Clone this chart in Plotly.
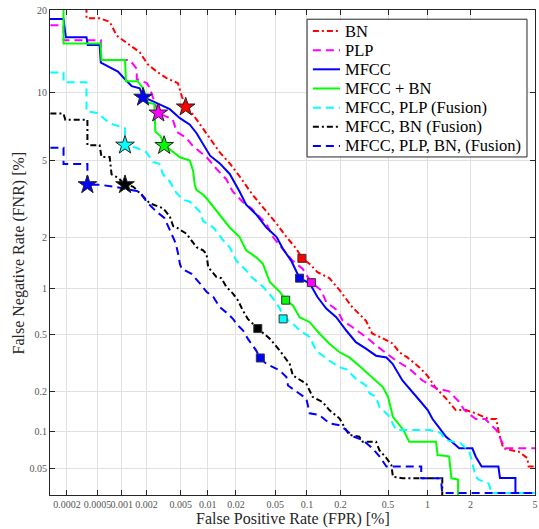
import plotly.graph_objects as go
from statistics import NormalDist

# DET curves: (FPR %, FNR %)
bn = [(0.00036, 25), (0.00036, 18.8), (0.00053, 18.8), (0.00071, 18.3), (0.00087, 16.4), (0.00104, 15.8),
      (0.00166, 14.3), (0.00207, 12.9), (0.00264, 12.1), (0.00346, 11.4), (0.00465, 10.9), (0.00517, 9.6),
      (0.00573, 8.7), (0.00686, 8.1), (0.00886, 7.0), (0.0110, 6.15), (0.0135, 5.46), (0.0172, 4.84),
      (0.0218, 4.19), (0.0296, 3.38), (0.0408, 2.76), (0.0515, 2.37), (0.064, 2.0), (0.0795, 1.72),
      (0.0898, 1.51), (0.106, 1.40), (0.125, 1.25), (0.16, 1.15), (0.197, 0.97), (0.253, 0.76),
      (0.33, 0.62), (0.372, 0.51), (0.452, 0.474), (0.543, 0.437), (0.614, 0.38), (0.707, 0.35),
      (0.873, 0.298), (1.0, 0.26), (1.155, 0.211), (1.356, 0.178), (1.59, 0.145), (1.87, 0.145),
      (2.17, 0.137), (2.63, 0.124), (2.94, 0.124), (3.03, 0.10), (3.25, 0.073), (4.03, 0.0685),
      (4.52, 0.061), (4.6, 0.052), (5.1, 0.052)]

plp = [(0.00012, 17.8), (0.00018, 17.8), (0.00018, 15.8), (0.00055, 15.8), (0.00055, 13.4), (0.00126, 13.4),
       (0.00153, 12.4), (0.00153, 11.3), (0.00202, 10.9), (0.00219, 10.4), (0.00276, 8.2), (0.00406, 7.7),
       (0.00449, 6.8), (0.0058, 6.36), (0.00686, 5.84), (0.00975, 5.18), (0.0124, 4.56), (0.0158, 4.05),
       (0.0185, 3.51), (0.0234, 3.11), (0.0287, 2.87), (0.0408, 2.37), (0.0474, 2.0), (0.059, 1.72),
       (0.0734, 1.46), (0.0911, 1.31), (0.110, 1.08), (0.135, 0.97), (0.150, 0.816), (0.189, 0.721),
       (0.209, 0.622), (0.253, 0.563), (0.33, 0.484), (0.40, 0.423), (0.485, 0.372), (0.58, 0.332),
       (0.73, 0.292), (0.92, 0.24), (1.155, 0.211), (1.43, 0.2), (1.68, 0.167), (1.82, 0.145),
       (2.17, 0.124), (2.5, 0.124), (2.94, 0.102), (3.33, 0.073), (5.1, 0.073)]

mfcc = [(0.0001, 18.7), (0.00018, 18.7), (0.000193, 16.2), (0.00036, 16.2), (0.000374, 15.2), (0.00053, 15.2),
        (0.00055, 13.1), (0.00071, 12.6), (0.0009, 12.1), (0.0011, 11.3), (0.00133, 10.6), (0.00166, 10.4),
        (0.00182, 9.56), (0.00229, 9.25), (0.00375, 8.52), (0.0049, 7.8), (0.00635, 7.3), (0.00754, 6.69),
        (0.00886, 5.97), (0.0106, 5.27), (0.0135, 4.84), (0.0172, 4.3), (0.0218, 3.51), (0.0255, 3.0),
        (0.0323, 2.66), (0.0408, 2.26), (0.0515, 2.0), (0.059, 1.72), (0.0713, 1.46), (0.0854, 1.15),
        (0.106, 1.07), (0.125, 0.879), (0.150, 0.743), (0.184, 0.653), (0.224, 0.536), (0.272, 0.446),
        (0.33, 0.403), (0.40, 0.36), (0.485, 0.35), (0.543, 0.316), (0.648, 0.24), (0.772, 0.2),
        (0.873, 0.172), (1.005, 0.145), (1.09, 0.124), (1.22, 0.106), (1.356, 0.0905), (1.68, 0.073),
        (2.06, 0.073), (2.17, 0.0625), (2.37, 0.052), (3.03, 0.052), (3.1, 0.0417), (3.85, 0.0417),
        (3.85, 0.0312), (5.1, 0.0312)]

mfcc_bn = [(0.00018, 25), (0.00018, 15.4), (0.000545, 15.4), (0.00056, 13.4), (0.0011, 13.4), (0.00113, 11.1),
           (0.00157, 11.1), (0.00182, 10.4), (0.00207, 9.09), (0.00248, 8.95), (0.00255, 6.8), (0.00294, 6.48),
           (0.00323, 5.88), (0.00375, 5.65), (0.0049, 5.18), (0.00635, 5.0), (0.0069, 4.45), (0.0072, 3.8),
           (0.0075, 3.58), (0.0089, 3.38), (0.0097, 3.24), (0.0115, 2.93), (0.0135, 2.66), (0.0172, 2.26),
           (0.0218, 2.0), (0.0255, 1.68), (0.0323, 1.53), (0.0377, 1.40), (0.0441, 1.09), (0.0553, 0.947),
           (0.063, 0.84), (0.0739, 0.777), (0.0854, 0.653), (0.106, 0.606), (0.130, 0.51), (0.16, 0.435),
           (0.197, 0.38), (0.239, 0.35), (0.29, 0.306), (0.454, 0.215), (0.5, 0.182), (0.546, 0.129),
           (0.66, 0.102), (0.73, 0.0825), (1.155, 0.0825), (1.185, 0.0645), (1.43, 0.063), (1.485, 0.0415),
           (1.65, 0.0405), (1.65, 0.029)]

mfcc_plp_fus = [(0.00012, 12.0), (0.00018, 12.0), (0.00018, 11.0), (0.00036, 11.0), (0.00036, 8.35), (0.0005, 8.2),
                (0.000707, 7.41), (0.0011, 7.04), (0.0011, 5.9), (0.00152, 5.74), (0.002, 5.46), (0.00239, 4.92),
                (0.00286, 4.81), (0.00313, 4.28), (0.00375, 3.95), (0.00449, 3.44), (0.00535, 3.18), (0.00635, 3.11),
                (0.0082, 2.76), (0.0089, 2.45), (0.0115, 2.26), (0.0146, 1.92), (0.0172, 1.75), (0.0202, 1.46),
                (0.0255, 1.28), (0.0298, 1.15), (0.0377, 1.02), (0.0477, 0.86), (0.0553, 0.743), (0.0595, 0.66),
                (0.0739, 0.592), (0.0854, 0.536), (0.106, 0.484), (0.1215, 0.39), (0.16, 0.332), (0.197, 0.298),
                (0.224, 0.29), (0.272, 0.247), (0.33, 0.221), (0.355, 0.193), (0.40, 0.182), (0.426, 0.153),
                (0.5, 0.133), (0.58, 0.102), (1.04, 0.102), (1.25, 0.0964), (1.356, 0.085), (1.72, 0.08),
                (1.97, 0.0685), (2.07, 0.0553), (2.17, 0.0428), (2.27, 0.0405), (2.63, 0.0376), (2.75, 0.0312),
                (5.1, 0.0312)]

mfcc_bn_fus = [(0.00012, 8.16), (0.00018, 8.16), (0.00019, 7.67), (0.00037, 7.67), (0.00037, 5.9), (0.00053, 5.9),
               (0.00056, 5.2), (0.00071, 5.2), (0.00075, 4.28), (0.00091, 4.11), (0.0011, 3.8), (0.00138, 3.72),
               (0.00152, 3.58), (0.00219, 3.05), (0.00314, 2.87), (0.00375, 2.6), (0.0041, 2.3), (0.00449, 2.26),
               (0.0058, 2.09), (0.00754, 1.75), (0.0089, 1.68), (0.0097, 1.60), (0.0101, 1.34), (0.0124, 1.17),
               (0.014, 1.15), (0.0158, 1.02), (0.0186, 0.924), (0.021, 0.837), (0.0236, 0.721), (0.0265, 0.637),
               (0.0335, 0.55), (0.0441, 0.471), (0.0553, 0.39), (0.0688, 0.315), (0.0739, 0.26), (0.0987, 0.228),
               (0.113, 0.182), (0.139, 0.167), (0.16, 0.145), (0.197, 0.125), (0.224, 0.102), (0.239, 0.0934),
               (0.29, 0.0905), (0.31, 0.0825), (0.40, 0.0825), (0.426, 0.0707), (0.485, 0.061), (0.531, 0.0535),
               (0.546, 0.0428), (0.651, 0.0415), (1.28, 0.0415), (1.28, 0.029)]

mfcc_plp_bn_fus = [(0.00012, 5.74), (0.00018, 5.74), (0.00018, 4.81), (0.00037, 4.81), (0.00037, 3.8),
                   (0.00053, 3.8), (0.00079, 3.72), (0.00166, 3.51), (0.002, 3.11), (0.00261, 2.76),
                   (0.00325, 2.55), (0.00375, 2.17), (0.0044, 1.84), (0.00468, 1.60), (0.0049, 1.40),
                   (0.00513, 1.31), (0.00663, 1.22), (0.0082, 1.07), (0.0097, 0.947), (0.0115, 0.879),
                   (0.0135, 0.758), (0.0165, 0.686), (0.0186, 0.637), (0.021, 0.577), (0.0236, 0.536),
                   (0.0265, 0.471), (0.0323, 0.39), (0.0355, 0.347), (0.0408, 0.315), (0.0553, 0.283),
                   (0.064, 0.254), (0.0663, 0.221), (0.0795, 0.2), (0.0987, 0.177), (0.106, 0.137),
                   (0.130, 0.133), (0.16, 0.115), (0.197, 0.111), (0.224, 0.102), (0.26, 0.0905),
                   (0.31, 0.085), (0.375, 0.0729), (0.426, 0.063), (0.485, 0.052), (0.90, 0.052),
                   (0.90, 0.0415), (1.25, 0.0415), (1.28, 0.0312), (5.1, 0.0312)]

# operating points (star = one threshold, square = another)
star_pts = [(0.0057, 8.7), (0.00276, 8.2), (0.00182, 9.56), (0.00323, 5.88), (0.0011, 5.9), (0.0011, 3.8), (0.00037, 3.8)]
square_pts = [(0.0898, 1.51), (0.110, 1.08), (0.0854, 1.15), (0.063, 0.84), (0.0595, 0.637), (0.0335, 0.55), (0.0355, 0.347)]

names = ["BN", "PLP", "MFCC", "MFCC + BN", "MFCC, PLP (Fusion)", "MFCC, BN (Fusion)", "MFCC, PLP, BN, (Fusion)"]
colors = ["#ff0000", "#ff00ff", "#0000ff", "#00ff00", "#00ffff", "#000000", "#0000ff"]
dashes = ["6px,3px,2px,3px", "8px,5px", "solid", "solid", "8px,5px", "6px,3px,2px,3px", "8px,5px"]

x_ticks = [0.0002, 0.0005, 0.001, 0.002, 0.005, 0.01, 0.02, 0.05, 0.1, 0.2, 0.5, 1, 2, 5]
x_labels = ["0.0002", "0.0005", "0.001", "0.002", "0.005", "0.01", "0.02", "0.05", "0.1", "0.2", "0.5", "1", "2", "5"]
y_ticks = [0.05, 0.1, 0.2, 0.5, 1, 2, 5, 10, 20]
y_labels = ["0.05", "0.1", "0.2", "0.5", "1", "2", "5", "10", "20"]

SERIF = "'Liberation Serif', 'Times New Roman', Times, serif"

nd = NormalDist()


def probit(p):
    # percent -> normal deviate
    return nd.inv_cdf(p / 100.0)


curves = [bn, plp, mfcc, mfcc_bn, mfcc_plp_fus, mfcc_bn_fus, mfcc_plp_bn_fus]

fig = go.Figure()
for pts, name, col, dsh in zip(curves, names, colors, dashes):
    fig.add_trace(go.Scatter(
        x=[probit(p[0]) for p in pts], y=[probit(p[1]) for p in pts],
        mode="lines", name=name, showlegend=False,
        line=dict(color=col, width=2, dash=dsh)))

fig.add_trace(go.Scatter(
    x=[probit(p[0]) for p in square_pts], y=[probit(p[1]) for p in square_pts],
    mode="markers", showlegend=False,
    marker=dict(symbol="square", size=8, color=colors, line=dict(color="#333333", width=1))))
fig.add_trace(go.Scatter(
    x=[probit(p[0]) for p in star_pts], y=[probit(p[1]) for p in star_pts],
    mode="markers", showlegend=False,
    marker=dict(symbol="star", size=14, color=colors, line=dict(color="#222222", width=1))))

axis_common = dict(
    showline=True, linecolor="#262626", linewidth=1, mirror="ticks",
    ticks="inside", ticklen=5, tickcolor="#262626", tickangle=0,
    showgrid=True, gridcolor="#e0e0e0", gridwidth=1, zeroline=False,
    automargin=False, ticklabeloverflow="allow",
    tickfont=dict(family=SERIF, size=10, color="#555555"),
)

# tiny padding on the far edges so the end tick labels (5 and 20) are kept
fig.update_xaxes(
    range=[-4.719, probit(5) + 0.0005], tickmode="array",
    tickvals=[probit(v) for v in x_ticks], ticktext=x_labels, **axis_common)
fig.update_yaxes(
    range=[probit(0.03), probit(20) + 0.0005], tickmode="array",
    tickvals=[probit(v) for v in y_ticks], ticktext=y_labels, **axis_common)

# axis titles
fig.add_annotation(text="False Positive Rate (FPR) [%]", xref="paper", yref="paper",
                   x=0.5, y=-0.05, xanchor="center", yanchor="middle", showarrow=False,
                   font=dict(family=SERIF, size=16, color="#262626"))
fig.add_annotation(text="False Negative Rate (FNR) [%]", xref="paper", yref="paper",
                   x=-0.064, y=0.5, xanchor="center", yanchor="middle", textangle=-90, showarrow=False,
                   font=dict(family=SERIF, size=16, color="#262626"))

# legend box drawn by hand (MATLAB-style compact spacing)
fig.add_shape(type="rect", xref="paper", yref="paper", x0=0.530, x1=0.9835, y0=0.697, y1=0.981,
              fillcolor="white", line=dict(color="#262626", width=1), layer="above")
for i, (name, col, dsh) in enumerate(zip(names, colors, dashes)):
    yy = 0.9567 - i * 0.0395
    fig.add_shape(type="line", xref="paper", yref="paper", x0=0.542, x1=0.598, y0=yy, y1=yy,
                  line=dict(color=col, width=2, dash=dsh), layer="above")
    fig.add_annotation(text=name, xref="paper", yref="paper", x=0.604, y=yy,
                       xanchor="left", yanchor="middle", showarrow=False,
                       font=dict(family=SERIF, size=16.5, color="#000000"))

fig.update_layout(
    width=539, height=529,
    margin=dict(l=50, r=4, t=10, b=34),
    plot_bgcolor="white", paper_bgcolor="white",
    font=dict(family=SERIF),
    showlegend=False,
)

# drop the default 8px page margin so the figure fills the window, no modebar
fig.write_html("out.html", config={"displayModeBar": False},
               post_script="document.body.style.margin='0';")
